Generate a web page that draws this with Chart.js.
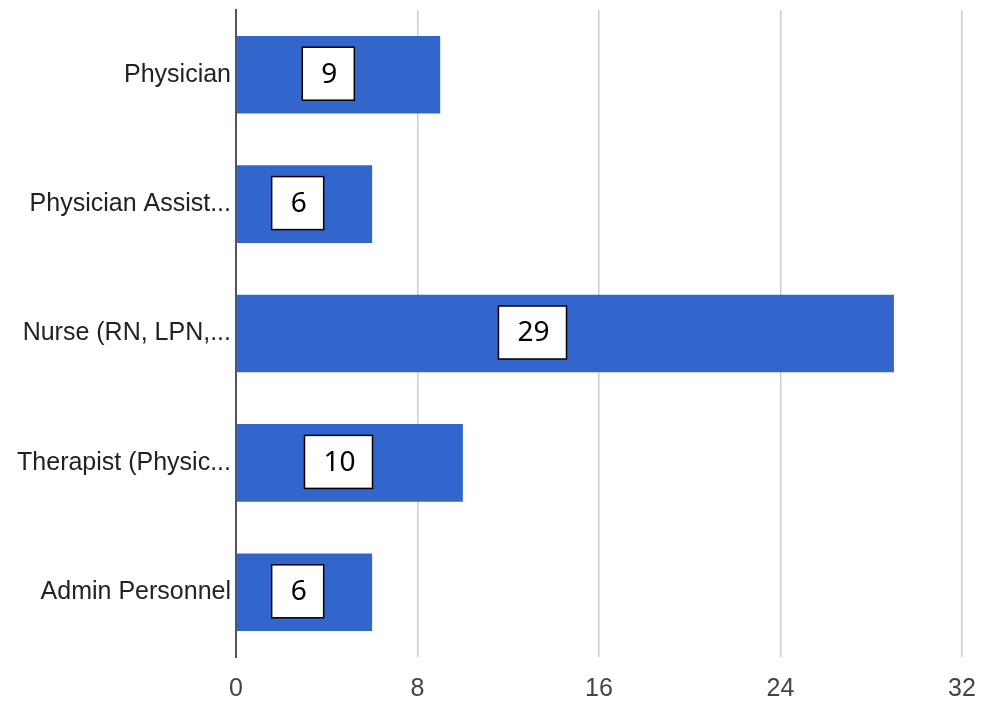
<!DOCTYPE html>
<html>
<head>
<meta charset="utf-8">
<script src="https://cdn.jsdelivr.net/npm/chart.js@4"></script>
<style>
  html, body { margin: 0; padding: 0; background: #fff; }
</style>
</head>
<body>
<canvas id="chartRoles" width="981" height="705"></canvas>
<script>
// Données du graphique
const categories = ["Physician", "Physician Assist...", "Nurse (RN, LPN,...", "Therapist (Physic...", "Admin Personnel"];
const counts = [9, 6, 29, 10, 6];
const xTicks = [0, 8, 16, 24, 32];

// Encadrés blancs avec la valeur sur chaque barre
const boxLabels = {
  id: "boxLabels",
  afterDatasetsDraw(chart) {
    const ctx = chart.ctx;
    const meta = chart.getDatasetMeta(0);
    ctx.save();
    ctx.font = "28px 'Noto Sans', sans-serif";
    ctx.textAlign = "center";
    ctx.textBaseline = "middle";
    meta.data.forEach((bar, i) => {
      const txt = String(counts[i]);
      const w = ctx.measureText(txt).width + 36;
      const h = 53;
      const cx = bar.base + (bar.x - bar.base) * 0.45;
      const cy = bar.y - 1;
      ctx.fillStyle = "#fff";
      ctx.fillRect(cx - w / 2, cy - h / 2, w, h);
      ctx.strokeStyle = "#000";
      ctx.lineWidth = 1.5;
      ctx.strokeRect(cx - w / 2, cy - h / 2, w, h);
      ctx.fillStyle = "#000";
      ctx.fillText(txt, cx + 1, cy + 1);
    });
    ctx.restore();
  }
};

const ctxRoles = document.getElementById("chartRoles").getContext("2d");

const chartRoles = new Chart(ctxRoles, {
  type: "bar",
  data: {
    labels: categories,
    datasets: [{
      data: counts,
      backgroundColor: "#3366cc",
      barPercentage: 0.6,
      categoryPercentage: 1
    }]
  },
  options: {
    indexAxis: "y",
    responsive: false,
    animation: false,
    devicePixelRatio: 1,
    layout: { padding: { top: 10, right: 19, left: 0, bottom: 0 } },
    plugins: {
      legend: { display: false },
      tooltip: { enabled: false }
    },
    scales: {
      x: {
        min: 0,
        max: 32,
        afterBuildTicks: (scale) => {
          scale.ticks = xTicks.map(v => ({ value: v }));
        },
        afterFit: (scale) => {
          scale.height = 48;
          scale.paddingLeft = 0;
          scale.paddingRight = 0;
        },
        grid: { color: "#cccccc", lineWidth: 1.5, drawTicks: false },
        border: { display: false },
        ticks: {
          color: "#444",
          padding: 17,
          font: { family: "'Liberation Sans', Arial, sans-serif", size: 25 }
        }
      },
      y: {
        afterFit: (scale) => {
          scale.width = 236;
          scale.paddingTop = 0;
          scale.paddingBottom = 0;
        },
        grid: { display: false, drawTicks: false },
        border: { color: "#555", width: 2 },
        ticks: {
          color: "#222",
          padding: 5,
          font: { family: "'Liberation Sans', Arial, sans-serif", size: 25 }
        }
      }
    }
  },
  plugins: [boxLabels]
});
</script>
</body>
</html>
